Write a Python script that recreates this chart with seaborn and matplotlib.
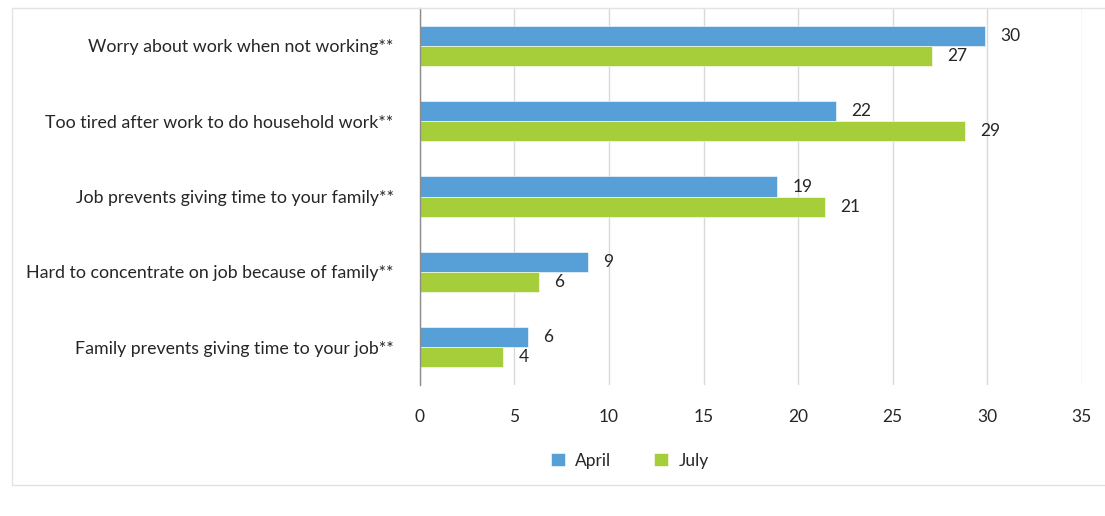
import matplotlib
matplotlib.use("Agg")
import matplotlib.pyplot as plt
from matplotlib.patches import Rectangle
import seaborn as sns
import pandas as pd

items = [
    "Worry about work when not working**",
    "Too tired after work to do household work**",
    "Job prevents giving time to your family**",
    "Hard to concentrate on job because of family**",
    "Family prevents giving time to your job**",
]
april = [29.9, 22.0, 18.9, 8.9, 5.7]
july = [27.1, 28.8, 21.4, 6.3, 4.4]
months = ["April", "July"]
x_ticks = [0, 5, 10, 15, 20, 25, 30, 35]

df = pd.DataFrame({
    "item": items * 2,
    "value": april + july,
    "month": ["April"] * len(items) + ["July"] * len(items),
})

sns.set_theme(style="white")
plt.rcParams["font.family"] = ["Lato", "DejaVu Sans"]

fig = plt.figure(figsize=(11.05, 5.16), dpi=100)
ax = fig.add_axes([0.380, 0.254, 0.599, 0.73])

palette = {"April": "#569fd7", "July": "#a6cd3a"}
sns.barplot(data=df, y="item", x="value", hue="month", orient="h",
            palette=palette, width=0.535, dodge=True, ax=ax,
            edgecolor="#ffffff", linewidth=0.4, legend=True, saturation=1)

for cont in ax.containers:
    vals = [b.get_width() for b in cont]
    ax.bar_label(cont, labels=[f"{v:.0f}" for v in vals], padding=11,
                 fontsize=12.5, color="#262626")

ax.set_xlim(0, 35)
ax.set_xticks(x_ticks)
ax.set_xticklabels([str(t) for t in x_ticks], fontsize=12.5, color="#262626")
ax.tick_params(axis="x", length=0, pad=17)
ax.tick_params(axis="y", length=0, pad=19)
for lab in ax.get_yticklabels():
    lab.set_fontsize(12.8)
    lab.set_color("#262626")
ax.set_xlabel("")
ax.set_ylabel("")
ax.grid(axis="x", color="#d9d9d9", linewidth=1)
ax.set_axisbelow(True)
for s in ["top", "right", "bottom"]:
    ax.spines[s].set_visible(False)
ax.spines["left"].set_color("#8c8c8c")
ax.spines["left"].set_linewidth(1)

leg = ax.get_legend()
handles = leg.legend_handles
leg.remove()
fig.legend(handles, months, loc="center", bbox_to_anchor=(0.57, 0.107),
           ncol=2, frameon=False, fontsize=12.5, handlelength=0.8,
           handleheight=0.8, columnspacing=2.5, handletextpad=0.6)

fig.patches.append(Rectangle((12 / 1105, 1 - 485 / 516), 1.0, (485 - 8) / 516,
                             transform=fig.transFigure, fill=False,
                             edgecolor="#e3e3e3", linewidth=1))

fig.savefig("out.png", dpi=100, facecolor="white")
